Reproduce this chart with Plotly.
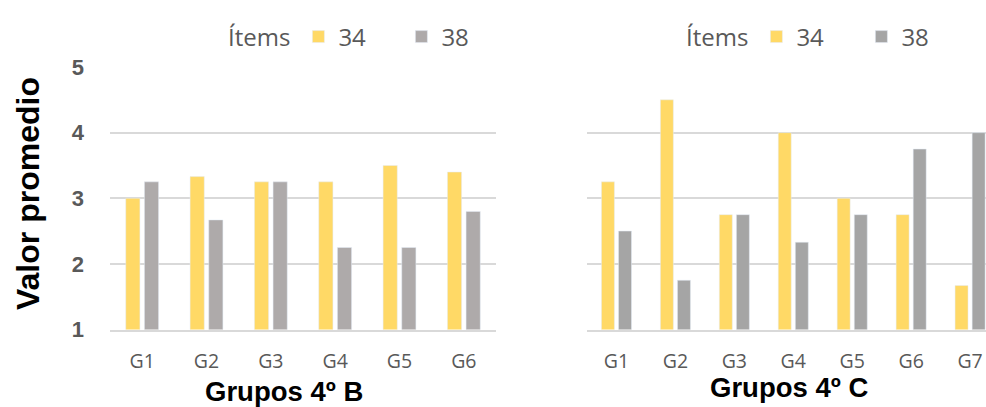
import plotly.graph_objects as go

groups_b = ["G1", "G2", "G3", "G4", "G5", "G6"]
b_item34 = [3.0, 3.33, 3.25, 3.25, 3.5, 3.4]
b_item38 = [3.25, 2.67, 3.25, 2.25, 2.25, 2.8]

groups_c = ["G1", "G2", "G3", "G4", "G5", "G6", "G7"]
c_item34 = [3.25, 4.5, 2.75, 4.0, 3.0, 2.75, 1.67]
c_item38 = [2.5, 1.75, 2.75, 2.33, 2.75, 3.75, 4.0]

series_names = ["34", "38"]
y_ticks = [1, 2, 3, 4, 5]

YELLOW = "#FFD966"
GREY_B = "#AEAAAA"
GREY_C = "#A5A5A5"
TXT = "#595959"
GRID = "#D9D9D9"
W = 986
H = 407


def fx(px):
    return px / W


def fy(py):
    return 1 - py / H


fig = go.Figure()
fig.add_trace(go.Bar(x=groups_b, y=b_item34, name=series_names[0], marker_color=YELLOW,
                     xaxis="x", yaxis="y", legend="legend"))
fig.add_trace(go.Bar(x=groups_b, y=b_item38, name=series_names[1], marker_color=GREY_B,
                     xaxis="x", yaxis="y", legend="legend"))
fig.add_trace(go.Bar(x=groups_c, y=c_item34, name=series_names[0], marker_color=YELLOW,
                     xaxis="x2", yaxis="y2", legend="legend2"))
fig.add_trace(go.Bar(x=groups_c, y=c_item38, name=series_names[1], marker_color=GREY_C,
                     xaxis="x2", yaxis="y2", legend="legend2"))

tickfont_x = dict(family="Open Sans", size=19.5, color=TXT)
tickfont_y = dict(family="Liberation Sans", size=22, color=TXT, weight="bold")

common_x = dict(type="category", showgrid=False, showline=True, linecolor=GRID, linewidth=1.5,
                ticks="", tickfont=tickfont_x, ticklabelstandoff=13, zeroline=False,
                automargin=False, ticklabeloverflow="allow")
common_y = dict(range=[1, 5.005], tickvals=y_ticks, showgrid=True, gridcolor=GRID, gridwidth=1.5,
                zeroline=False, showline=False, domain=[fy(329.5), fy(66.7)], automargin=False)

legend_font = dict(family="Open Sans", size=24, color=TXT)

fig.update_layout(
    width=W, height=H,
    margin=dict(l=0, r=0, t=0, b=0, pad=0),
    paper_bgcolor="white", plot_bgcolor="white",
    barmode="group", bargap=0.42, bargroupgap=0.24,
    xaxis=dict(**common_x, domain=[fx(110), fx(496)], range=[-0.5, 5.5], anchor="y"),
    yaxis=dict(**common_y, anchor="x", tickfont=tickfont_y, ticklabelstandoff=25),
    xaxis2=dict(**common_x, domain=[fx(587), fx(986)], range=[-0.5, 6.27], anchor="y2"),
    yaxis2=dict(**common_y, anchor="x2", showticklabels=False),
    legend=dict(orientation="h", x=fx(226), xanchor="left", y=fy(37), yanchor="middle",
                title=dict(text="Ítems", side="left", font=legend_font),
                font=legend_font, entrywidth=58,
                bgcolor="rgba(0,0,0,0)", traceorder="normal"),
    legend2=dict(orientation="h", x=fx(684), xanchor="left", y=fy(37), yanchor="middle",
                 title=dict(text="Ítems", side="left", font=legend_font),
                 font=legend_font, entrywidth=60,
                 bgcolor="rgba(0,0,0,0)", traceorder="normal"),
    annotations=[
        dict(text="<b>Valor promedio</b>", xref="paper", yref="paper", x=fx(28), y=fy(194),
             textangle=-90, showarrow=False, xanchor="center", yanchor="middle",
             font=dict(family="Liberation Sans", size=32, color="black")),
        dict(text="<b>Grupos 4º B</b>", xref="paper", yref="paper", x=fx(284), y=fy(391),
             showarrow=False, xanchor="center", yanchor="middle", borderpad=0,
             font=dict(family="Liberation Sans", size=27.5, color="black")),
        dict(text="<b>Grupos 4º C</b>", xref="paper", yref="paper", x=fx(789), y=fy(387),
             showarrow=False, xanchor="center", yanchor="middle", borderpad=0,
             font=dict(family="Liberation Sans", size=27.5, color="black")),
    ],
)

fig.write_html("out.html", config={"displayModeBar": False},
               post_script="document.body.style.margin='0px';document.body.style.overflow='hidden';")
